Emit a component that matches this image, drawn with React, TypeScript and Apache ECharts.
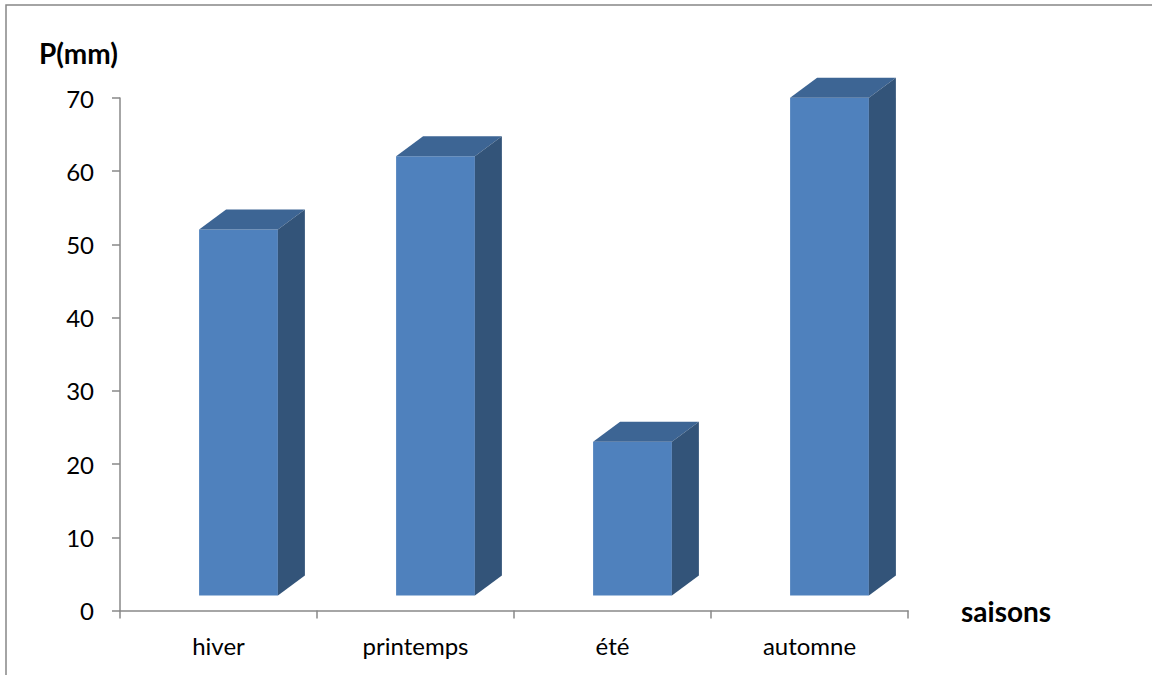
import React, { useEffect, useRef } from "react";
import * as echarts from "echarts";

const categories = ["hiver", "printemps", "été", "automne"];
const precipitation = [50, 60, 21, 68];
const yTicks = { min: 0, max: 70, interval: 10 };
const yTitle = "P(mm)";
const xTitle = "saisons";

const FONT = "Lato, 'Open Sans', sans-serif";

export default function App() {
  const ref = useRef<HTMLDivElement>(null);
  useEffect(() => {
    if (!ref.current) return;
    const chart = echarts.init(ref.current, undefined, { renderer: "svg" });
    const DX = 20, DY = -15; // floor depth shift of bar front
    const SX = 27, SY = -20; // bar depth
    chart.setOption({
      animation: false,
      backgroundColor: "#ffffff",
      graphic: [
        {
          type: "rect",
          shape: { x: 6, y: 5, width: 1170, height: 700 },
          style: { fill: "none", stroke: "#878787", lineWidth: 1.5 },
          silent: true,
        },
      ],
      grid: { left: 120, top: 98, width: 788, height: 512.5, containLabel: false },
      xAxis: {
        type: "category",
        data: categories,
        name: xTitle,
        nameLocation: "end",
        nameGap: 53,
        nameTextStyle: { fontFamily: FONT, fontSize: 28, fontWeight: "bold", color: "#000" },
        axisLine: { lineStyle: { color: "#898989", width: 1.5 } },
        axisTick: { show: true, alignWithLabel: false, length: 8, lineStyle: { color: "#898989", width: 1.5 } },
        axisLabel: { fontFamily: FONT, fontSize: 24, color: "#000", margin: 23 },
        splitLine: { show: false },
      },
      yAxis: {
        type: "value",
        min: yTicks.min,
        max: yTicks.max,
        interval: yTicks.interval,
        name: yTitle,
        nameLocation: "end",
        nameGap: 31,
        nameTextStyle: { fontFamily: FONT, fontSize: 28, fontWeight: "bold", color: "#000", align: "right", padding: [0, 2, 0, 0] },
        axisLine: { show: true, lineStyle: { color: "#898989", width: 1.5 } },
        axisTick: { show: true, length: 8, lineStyle: { color: "#898989", width: 1.5 } },
        axisLabel: { fontFamily: FONT, fontSize: 24, color: "#000", margin: 26 },
        splitLine: { show: false },
      },
      series: [
        {
          type: "custom",
          data: precipitation.map((v, i) => [i, v]),
          encode: { x: 0, y: 1 },
          renderItem: (params: any, api: any) => {
            const idx = api.value(0);
            const val = api.value(1);
            const base = api.coord([idx, 0]);
            const top = api.coord([idx, val]);
            const band = api.size([1, 0])[0];
            const w = band / 2.5;
            const x = base[0] - w / 2 + DX;
            const yT = top[1] + DY;
            const yB = base[1] + DY;
            return {
              type: "group",
              children: [
                {
                  type: "rect",
                  shape: { x, y: yT, width: w, height: yB - yT },
                  style: { fill: "#4f81bd" },
                },
                {
                  type: "polygon",
                  shape: {
                    points: [
                      [x, yT],
                      [x + SX, yT + SY],
                      [x + w + SX, yT + SY],
                      [x + w, yT],
                    ],
                  },
                  style: { fill: "#3d6594" },
                },
                {
                  type: "polygon",
                  shape: {
                    points: [
                      [x + w, yT],
                      [x + w + SX, yT + SY],
                      [x + w + SX, yB + SY],
                      [x + w, yB],
                    ],
                  },
                  style: { fill: "#335479" },
                },
              ],
            };
          },
        },
      ],
    });
    return () => chart.dispose();
  }, []);
  return (
    <div
      ref={ref}
      style={{ position: "fixed", left: 0, top: 0, width: 1152, height: 675 }}
    />
  );
}
